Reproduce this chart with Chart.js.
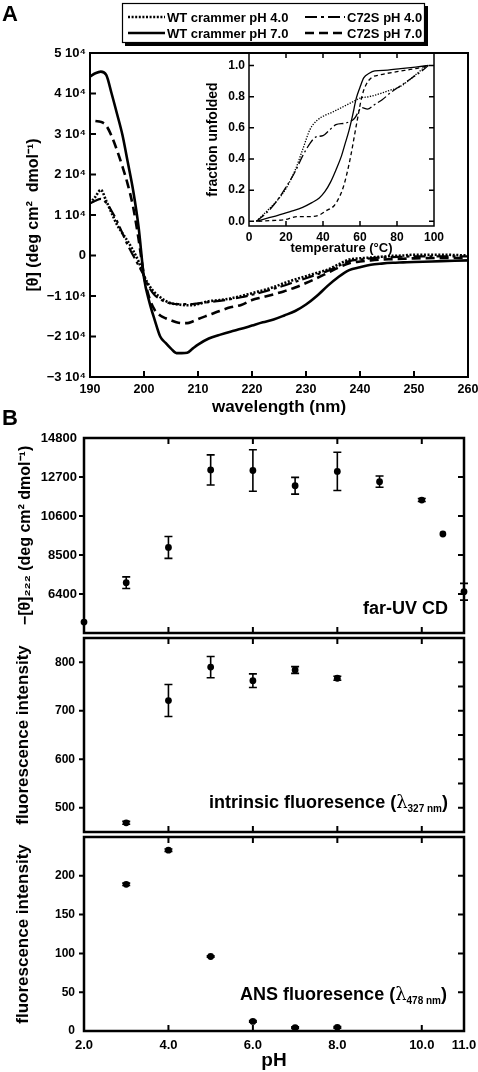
<!DOCTYPE html>
<html>
<head>
<meta charset="utf-8">
<script src="https://cdn.jsdelivr.net/npm/chart.js@4.4.0/dist/chart.umd.min.js"></script>
<style>
body { margin: 0; background: #fff; }
#page { position: relative; width: 478px; height: 1072px; overflow: hidden; background: #fff; }
canvas { position: absolute; left: 0; }
</style>
</head>
<body>
<div id="page">
  <canvas id="cdChart" width="478" height="420" style="top:0"></canvas>
  <canvas id="meltChart" width="283" height="220" style="top:40px;left:195px"></canvas>
  <canvas id="farUvChart" width="478" height="243" style="top:400px"></canvas>
  <canvas id="intrChart" width="478" height="222" style="top:620px"></canvas>
  <canvas id="ansChart" width="478" height="252" style="top:820px"></canvas>
</div>
<script>
// ---- panel A: far-UV CD spectra
var wavelength = [190, 191, 192, 193, 194, 195, 196, 197, 198, 199, 200, 201, 202, 203, 204, 205, 206, 207, 208, 209, 210,
    212, 214, 216, 218, 220, 222, 224, 226, 228, 230, 232, 234, 236, 238, 240, 242, 244, 246, 248, 250, 255, 260];
var wtPh4 = [12900, 14500, 16200, 13500, 10500, 7600, 5500, 3500, 1200, -1500, -5000, -7500, -9200, -10300, -11200, -11800, -12000, -12200, -12300, -12300, -12000,
    -11300, -11000, -10600, -10000, -9300, -8600, -7800, -6800, -5900, -5100, -4300, -3500, -2200, -1000, -700, -500, -300, -100, 0, 200, 200, 0];
var wtPh7 = [44200, 45000, 45400, 44600, 40000, 35000, 29800, 23000, 16000, 7000, -5500, -11500, -16000, -20000, -21600, -23000, -24100, -24100, -24000, -23000, -22000,
    -20500, -19600, -18800, -18100, -17300, -16500, -15800, -14800, -13700, -12100, -10000, -7500, -5300, -3600, -2900, -2300, -2000, -1800, -1700, -1600, -1400, -1200];
var c72sPh4 = [12900, 13500, 14000, 13000, 11000, 8500, 5500, 2500, 0, -2500, -5000, -8000, -9800, -10800, -11500, -11800, -12000, -12000, -12000, -12000, -11800,
    -11500, -11200, -10800, -10300, -9700, -9000, -8200, -7400, -6500, -5600, -4700, -3800, -2600, -1400, -1000, -700, -500, -400, -300, -200, -200, -200];
var c72sPh7 = [null, 33200, 33000, 32100, 29500, 26000, 22000, 17500, 11900, 4000, -5000, -10500, -13500, -14800, -15500, -16000, -16500, -16700, -16700, -16300, -15700,
    -14700, -13700, -12800, -12200, -11000, -10300, -9600, -8800, -7900, -6800, -5600, -4300, -3000, -1900, -1500, -1200, -1000, -900, -800, -700, -600, -600];
var seriesNames = ['WT crammer pH 4.0', 'WT crammer pH 7.0', 'C72S pH 4.0', 'C72S pH 7.0'];
var cdTicks = [-30000, -20000, -10000, 0, 10000, 20000, 30000, 40000, 50000];

// ---- inset: thermal unfolding
var wtPh4Temp = [4, 10, 15, 20, 25, 29, 33, 37, 41, 45, 50, 55, 60, 65, 71, 76, 81, 86, 91, 96];
var wtPh4Frac = [0, 0.07, 0.13, 0.21, 0.33, 0.46, 0.59, 0.65, 0.68, 0.7, 0.73, 0.76, 0.79, 0.8, 0.82, 0.84, 0.86, 0.9, 0.95, 1.0];
var wtPh7Temp = [4, 10, 16, 23, 29, 34, 38, 41, 44, 47, 50, 52, 54, 56, 58, 60, 62, 65, 68, 75, 82, 90, 97];
var wtPh7Frac = [0, 0.02, 0.04, 0.065, 0.09, 0.12, 0.15, 0.19, 0.25, 0.33, 0.42, 0.5, 0.58, 0.68, 0.79, 0.86, 0.92, 0.95, 0.965, 0.97, 0.98, 0.99, 1.0];
var c72sPh4Temp = [4, 10, 15, 20, 25, 29, 33, 36, 40, 43, 47, 52, 57, 61, 64, 68, 72, 77, 82, 88, 93, 97];
var c72sPh4Frac = [0, 0.06, 0.13, 0.22, 0.32, 0.42, 0.5, 0.54, 0.55, 0.58, 0.62, 0.63, 0.66, 0.73, 0.72, 0.75, 0.78, 0.83, 0.87, 0.92, 0.96, 1.0];
var c72sPh7Temp = [5, 12, 19, 26, 33, 38, 42, 46, 49, 51, 53, 55, 57, 59, 61, 63, 66, 71, 80, 90, 97];
var c72sPh7Frac = [0, 0.005, 0.01, 0.03, 0.03, 0.04, 0.07, 0.1, 0.16, 0.22, 0.31, 0.42, 0.55, 0.68, 0.8, 0.87, 0.92, 0.94, 0.96, 0.98, 1.0];

// ---- panel B: pH dependence
var phTicks = [2, 4, 6, 8, 10, 11];
var farUvPh = [2, 3, 4, 5, 6, 7, 8, 9, 10, 10.5, 11];
var farUv = [4890, 7010, 8910, 13080, 13050, 12230, 13000, 12450, 11460, 9630, 6520];
var farUvErr = [0, 310, 590, 810, 1120, 450, 1030, 300, 80, 0, 450];
var farUvTicks = [6400, 8500, 10600, 12700, 14800];
var intrinsicPh = [3, 4, 5, 6, 7, 8];
var intrinsic = [469, 721, 790, 762, 784, 767];
var intrinsicErr = [3, 33, 22, 14, 7, 4];
var intrinsicTicks = [500, 600, 700, 800];
var ansPh = [3, 4, 5, 6, 7, 8];
var ans = [189, 233, 96, 12.4, 4.3, 4.7];
var ansErr = [1.5, 1.5, 1, 1, 1, 1];
var ansTicks = [0, 50, 100, 150, 200];

var FONT = '"Liberation Sans", Arial, Helvetica, sans-serif';
Chart.defaults.font.family = FONT;
Chart.defaults.font.weight = 'bold';
Chart.defaults.font.size = 12;
Chart.defaults.color = '#000';

function pairs(xs, ys) {
    return xs.map(function (x, i) { return {x: x, y: ys[i]}; });
}
// fixed axis sizes so the plot areas land where the figure has them
function fixWidth(w) { return function (s) { s.width = w; s.paddingTop = 0; s.paddingBottom = 0; }; }
function fixHeight(h) { return function (s) { s.height = h; s.paddingLeft = 0; s.paddingRight = 0; }; }

// box around the plot area, with tick marks pointing in (or out on the left)
var framePlugin = {
    id: 'frame',
    afterDraw: function (chart, args, o) {
        var a = chart.chartArea, ctx = chart.ctx;
        var xs = chart.scales.x, ys = chart.scales.y;
        ctx.save();
        ctx.strokeStyle = '#000';
        ctx.lineWidth = o.width;
        ctx.strokeRect(a.left, a.top, a.right - a.left, a.bottom - a.top);
        ctx.lineWidth = o.tickWidth;
        ctx.beginPath();
        xs.ticks.forEach(function (t) {
            if (t.value <= xs.min || t.value >= xs.max) return;
            var px = xs.getPixelForValue(t.value);
            if (o.bottom) { ctx.moveTo(px, a.bottom); ctx.lineTo(px, a.bottom - o.len); }
            if (o.top) { ctx.moveTo(px, a.top); ctx.lineTo(px, a.top + o.len); }
        });
        ys.ticks.forEach(function (t) {
            if (t.value <= ys.min || t.value >= ys.max) return;
            var py = ys.getPixelForValue(t.value);
            if (o.left === 'in') { ctx.moveTo(a.left, py); ctx.lineTo(a.left + o.len, py); }
            if (o.left === 'out' && t.label !== '') { ctx.moveTo(a.left, py); ctx.lineTo(a.left - o.outLen, py); }
            if (o.right) { ctx.moveTo(a.right, py); ctx.lineTo(a.right - o.len, py); }
        });
        ctx.stroke();
        ctx.restore();
    }
};

var errorBarPlugin = {
    id: 'errorBars',
    afterDatasetsDraw: function (chart, args, o) {
        var ctx = chart.ctx, ys = chart.scales.y;
        ctx.save();
        ctx.strokeStyle = '#000';
        ctx.lineWidth = o.width;
        chart.data.datasets.forEach(function (ds, di) {
            if (!ds.yErr) return;
            chart.getDatasetMeta(di).data.forEach(function (pt, i) {
                var e = ds.yErr[i];
                if (!e) return;
                var v = ds.data[i].y;
                var top = ys.getPixelForValue(v + e), bot = ys.getPixelForValue(v - e);
                ctx.beginPath();
                ctx.moveTo(pt.x, top); ctx.lineTo(pt.x, bot);
                ctx.moveTo(pt.x - o.cap, top); ctx.lineTo(pt.x + o.cap, top);
                ctx.moveTo(pt.x - o.cap, bot); ctx.lineTo(pt.x + o.cap, bot);
                ctx.stroke();
            });
        });
        ctx.restore();
    }
};

// panel letters and labels with subscripts
function drawParts(ctx, parts, xRight, baseline) {
    var total = 0;
    parts.forEach(function (p) { ctx.font = p.font; p.w = ctx.measureText(p.text).width; total += p.w; });
    var x = xRight - total;
    parts.forEach(function (p) {
        ctx.font = p.font;
        ctx.fillText(p.text, x, baseline + (p.dy || 0));
        x += p.w;
    });
}
var notesPlugin = {
    id: 'notes',
    afterDraw: function (chart, args, o) {
        var ctx = chart.ctx, a = chart.chartArea;
        ctx.save();
        ctx.fillStyle = '#000';
        ctx.textBaseline = 'alphabetic';
        ctx.textAlign = 'left';
        (o.letters || []).forEach(function (l) {
            ctx.font = 'bold 22px ' + FONT;
            ctx.fillText(l.text, l.x, l.y);
        });
        (o.items || []).forEach(function (it) {
            drawParts(ctx, it.parts, a.right - it.dx, a.bottom - it.dy);
        });
        ctx.restore();
    }
};

var legendBoxPlugin = {
    id: 'legendBox',
    afterDraw: function (chart, args, o) {
        var ctx = chart.ctx;
        ctx.save();
        ctx.fillStyle = '#000';
        ctx.fillRect(o.x + o.shadow, o.y + o.h, o.w, o.shadow);
        ctx.fillRect(o.x + o.w, o.y + o.shadow, o.shadow, o.h);
        ctx.fillStyle = '#fff';
        ctx.fillRect(o.x, o.y, o.w, o.h);
        ctx.strokeStyle = '#000';
        ctx.lineWidth = 1.2;
        ctx.strokeRect(o.x + 0.5, o.y + 0.5, o.w - 1, o.h - 1);
        ctx.font = 'bold 13px ' + FONT;
        ctx.textBaseline = 'middle';
        chart.data.datasets.forEach(function (ds, i) {
            var col = o.cols[Math.floor(i / 2)], y = o.y + o.rows[i % 2];
            ctx.setLineDash(ds.borderDash || []);
            ctx.lineWidth = ds.borderWidth;
            ctx.beginPath();
            ctx.moveTo(col.x0, y);
            ctx.lineTo(col.x1, y);
            ctx.stroke();
            ctx.setLineDash([]);
            ctx.fillStyle = '#000';
            ctx.fillText(ds.label, col.x1 + 2, y + 1);
        });
        ctx.restore();
    }
};

var base = {responsive: false, animation: false, devicePixelRatio: 1, events: []};
function opts(extra) { return Object.assign({}, base, extra); }
var noLines = {grid: {display: false, drawTicks: false}, border: {display: false}};

// ---- panel A
new Chart(document.getElementById('cdChart'), {
    type: 'line',
    data: {
        datasets: [
            {label: seriesNames[0], data: pairs(wavelength, wtPh4), borderColor: '#000', borderWidth: 2.6, borderDash: [2, 1.6], pointRadius: 0},
            {label: seriesNames[1], data: pairs(wavelength, wtPh7), borderColor: '#000', borderWidth: 2.6, borderDash: [], pointRadius: 0},
            {label: seriesNames[2], data: pairs(wavelength, c72sPh4), borderColor: '#000', borderWidth: 2.2, borderDash: [12, 4, 3, 4], pointRadius: 0},
            {label: seriesNames[3], data: pairs(wavelength, c72sPh7), borderColor: '#000', borderWidth: 2.6, borderDash: [9, 5], pointRadius: 0}
        ]
    },
    options: opts({
        layout: {padding: {top: 53, left: 0, right: 10, bottom: 0}},
        elements: {line: {cubicInterpolationMode: 'monotone', fill: false}},
        plugins: {
            legend: {display: false}, tooltip: {enabled: false},
            frame: {width: 2, tickWidth: 2, len: 6, left: 'in', bottom: true},
            legendBox: {x: 122, y: 3, w: 303, h: 40, shadow: 3, rows: [14, 30],
                cols: [{x0: 128, x1: 165}, {x0: 305, x1: 345}]},
            notes: {letters: [{text: 'A', x: 2, y: 21}]}
        },
        scales: {
            x: Object.assign({type: 'linear', min: 190, max: 260,
                ticks: {stepSize: 10, autoSkip: false, maxRotation: 0, padding: 5, font: {size: 12.5}},
                title: {display: true, text: 'wavelength (nm)', font: {size: 17}, padding: {top: 0, bottom: 2}},
                afterFit: fixHeight(43)}, noLines),
            y: Object.assign({min: -30000, max: 50000,
                afterBuildTicks: function (s) { s.ticks = cdTicks.map(function (v) { return {value: v}; }); },
                ticks: {autoSkip: false, padding: 4, font: {size: 13},
                    callback: function (v) { return v === 0 ? '0' : (v < 0 ? '\u2212' : '') + Math.abs(v / 10000) + ' 10\u2074'; }},
                title: {display: true, text: '[\u03b8] (deg cm\u00b2  dmol\u207b\u00b9)', font: {size: 16}, padding: {top: 24, bottom: 0}},
                afterFit: fixWidth(90)}, noLines)
        }
    }),
    plugins: [framePlugin, legendBoxPlugin, notesPlugin]
});

// ---- inset
new Chart(document.getElementById('meltChart'), {
    type: 'line',
    data: {
        datasets: [
            {data: pairs(wtPh4Temp, wtPh4Frac), borderColor: '#000', borderWidth: 1.3, borderDash: [1.3, 1.4], pointRadius: 0},
            {data: pairs(wtPh7Temp, wtPh7Frac), borderColor: '#000', borderWidth: 1.3, borderDash: [], pointRadius: 0},
            {data: pairs(c72sPh4Temp, c72sPh4Frac), borderColor: '#000', borderWidth: 1.3, borderDash: [10, 3, 2, 3], pointRadius: 0},
            {data: pairs(c72sPh7Temp, c72sPh7Frac), borderColor: '#000', borderWidth: 1.3, borderDash: [4, 3], pointRadius: 0}
        ]
    },
    options: opts({
        layout: {padding: {top: 13, left: 0, right: 44, bottom: 0}},
        elements: {line: {cubicInterpolationMode: 'monotone', fill: false}},
        plugins: {
            legend: {display: false}, tooltip: {enabled: false},
            frame: {width: 1.5, tickWidth: 1.5, len: 5, left: 'in', right: true, top: true, bottom: true}
        },
        scales: {
            x: Object.assign({type: 'linear', min: 0, max: 100,
                ticks: {stepSize: 20, autoSkip: false, maxRotation: 0, padding: 4, font: {size: 12}},
                title: {display: true, text: 'temperature (\u00b0C)', font: {size: 13}, padding: {top: 0, bottom: 4}},
                afterFit: fixHeight(34)}, noLines),
            y: Object.assign({min: -0.03, max: 1.08,
                ticks: {stepSize: 0.2, includeBounds: false, autoSkip: false, padding: 4, font: {size: 12},
                    callback: function (v) { return v.toFixed(1); }},
                title: {display: true, text: 'fraction unfolded', font: {size: 14}, padding: {top: 10, bottom: 0}},
                afterFit: fixWidth(54)}, noLines)
        }
    }),
    plugins: [framePlugin]
});

// ---- panel B
function phPanel(id, cfg) {
    return new Chart(document.getElementById(id), {
        type: 'scatter',
        data: {
            datasets: [{data: pairs(cfg.ph, cfg.values), yErr: cfg.err, pointRadius: 3.4,
                pointBackgroundColor: '#000', pointBorderWidth: 0, clip: false}]
        },
        options: opts({
            layout: {padding: cfg.padding},
            plugins: {
                legend: {display: false}, tooltip: {enabled: false},
                frame: {width: 2.5, tickWidth: 2, len: 6, outLen: 5, left: 'out', right: true, top: true, bottom: true},
                errorBars: {width: 1.6, cap: 4},
                notes: cfg.notes
            },
            scales: {
                x: Object.assign({type: 'linear', min: 2, max: 11, display: cfg.showX,
                    afterBuildTicks: function (s) { s.ticks = phTicks.map(function (v) { return {value: v}; }); },
                    ticks: {autoSkip: false, maxRotation: 0, padding: 7, font: {size: 13},
                        callback: function (v) { return v.toFixed(1); }},
                    title: {display: cfg.showX, text: 'pH', font: {size: 19}, padding: {top: 0, bottom: 0}},
                    afterFit: cfg.showX ? fixHeight(41) : undefined}, noLines),
                y: Object.assign({min: cfg.min, max: cfg.max,
                    ticks: {stepSize: cfg.step, autoSkip: false, padding: cfg.labelPad, font: {size: cfg.labelSize},
                        callback: function (v) { return cfg.ticks.indexOf(v) >= 0 ? String(v) : ''; }},
                    title: {display: true, text: cfg.title, font: {size: cfg.titleSize}, padding: {top: cfg.titlePad, bottom: 0}},
                    afterFit: fixWidth(84)}, noLines)
            }
        }),
        plugins: [framePlugin, errorBarPlugin, notesPlugin]
    });
}

var big = 'bold 18px ' + FONT, sub = 'bold 10px ' + FONT, lam = '18px "DejaVu Serif", serif';

phPanel('farUvChart', {
    ph: farUvPh, values: farUv, err: farUvErr, ticks: farUvTicks,
    min: 4300, max: 14800, step: 2100, labelPad: 7, labelSize: 13,
    title: '\u2212[\u03b8]\u2082\u2082\u2082 (deg cm\u00b2 dmol\u207b\u00b9)', titleSize: 16, titlePad: 16,
    padding: {top: 38, left: 0, right: 14, bottom: 10}, showX: false,
    notes: {letters: [{text: 'B', x: 2, y: 25}], items: [{parts: [{text: 'far-UV CD', font: big}], dx: 16, dy: 19}]}
});

phPanel('intrChart', {
    ph: intrinsicPh, values: intrinsic, err: intrinsicErr, ticks: intrinsicTicks,
    min: 450, max: 850, step: 50, labelPad: 9, labelSize: 12,
    title: 'fluorescence intensity', titleSize: 17, titlePad: 13,
    padding: {top: 18, left: 0, right: 14, bottom: 10}, showX: false,
    notes: {items: [{parts: [{text: 'intrinsic fluoresence (', font: big}, {text: '\u03bb', font: lam},
        {text: '327 nm', font: sub, dy: 4}, {text: ')', font: big}], dx: 16, dy: 24}]}
});

phPanel('ansChart', {
    ph: ansPh, values: ans, err: ansErr, ticks: ansTicks,
    min: 0, max: 250, step: 50, labelPad: 9, labelSize: 12,
    title: 'fluorescence intensity', titleSize: 17, titlePad: 13,
    padding: {top: 17, left: 0, right: 14, bottom: 0}, showX: true,
    notes: {items: [{parts: [{text: 'ANS fluoresence (', font: big}, {text: '\u03bb', font: lam},
        {text: '478 nm', font: sub, dy: 4}, {text: ')', font: big}], dx: 17, dy: 31}]}
});
</script>
</body>
</html>
